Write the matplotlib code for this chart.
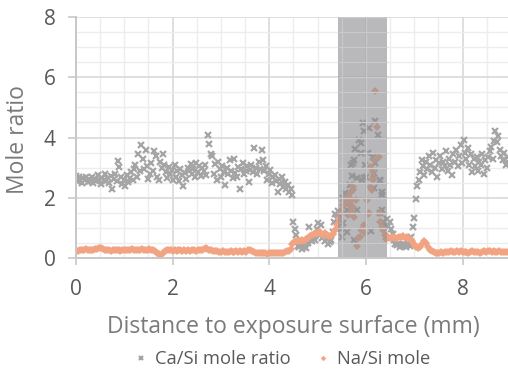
import numpy as np
import matplotlib
matplotlib.use("Agg")
import matplotlib.pyplot as plt
from matplotlib.ticker import MultipleLocator

plt.rcParams['font.family'] = ['Open Sans', 'DejaVu Sans']

# ---------------- data ----------------
# Ca/Si mole ratio, segment A: distance 0.00 .. 4.47 mm (step 0.03)
ca_a_start, ca_a_step = 0.00, 0.03
ca_a = [2.72, 2.55, 2.68, 2.60, 2.48, 2.66, 2.58, 2.70, 2.52, 2.63, 2.57,
        2.69, 2.50, 2.62, 2.55, 2.74, 2.60, 2.47, 2.65, 2.58, 2.80,
        2.56, 2.64, 2.49, 2.72, 2.30, 2.61, 2.78, 2.55, 3.22, 3.02,
        2.68, 2.45, 2.60, 2.38, 2.75, 2.52, 2.66, 2.85, 2.58, 2.95,
        3.10, 2.70, 3.45, 2.88, 3.75, 3.30, 2.95, 3.60, 3.05, 2.62,
        2.80, 3.15, 2.90, 3.55, 3.38, 2.70, 2.60, 3.20, 2.98, 3.45,
        3.10, 2.85, 2.65, 3.02, 2.78, 2.92, 2.60, 3.08, 2.70, 2.88,
        2.55, 2.95, 2.74, 2.38, 2.82, 2.62, 3.00, 2.90, 3.12, 2.78,
        2.96, 2.70, 3.15, 2.85, 3.05, 2.72, 2.98, 2.88, 3.10, 2.74,
        4.08, 3.80, 3.45, 3.38, 2.80, 3.12, 2.60, 3.20, 2.95, 2.68,
        3.05, 2.85, 2.42, 3.00, 2.78, 3.25, 2.90, 2.65, 3.30, 2.82,
        2.70, 3.02, 2.30, 2.95, 3.14, 2.80, 2.88, 3.05, 2.53, 2.92,
        3.10, 2.85, 3.64, 3.00, 2.78, 3.20, 2.95, 3.60, 3.26, 2.90,
        3.05, 2.60, 2.80, 2.92, 2.48, 2.70, 2.75, 2.55, 2.20, 2.62,
        2.45, 2.68, 2.35, 2.52, 2.28, 2.42, 2.18, 2.30, 2.10]
# segment B: 4.50 .. 5.40 mm (step 0.03)
ca_b_start, ca_b_step = 4.50, 0.03
ca_b = [1.20, 0.95, 0.75, 0.40, 0.35, 0.42, 0.30, 0.38, 0.45, 0.33, 0.50,
        1.02, 0.62, 0.55, 0.70, 0.60, 0.95, 1.15, 0.75, 1.08, 0.68,
        0.72, 0.55, 0.62, 0.48, 0.52, 0.60, 0.85, 1.20, 1.45, 1.30]
# segment C: 6.43 .. 8.95 mm (step 0.03)
ca_c_start, ca_c_step = 6.43, 0.03
ca_c = [1.30, 1.05, 1.20, 0.95, 0.80, 0.60, 0.48, 0.42, 0.45, 0.38,
        0.44, 0.40, 0.47, 0.36, 0.42, 0.48, 0.40, 0.70, 1.04, 1.33,
        1.96, 2.40, 2.58, 2.85, 3.25, 3.05, 2.75, 3.20, 2.95, 3.40,
        3.10, 2.85, 3.50, 3.00, 3.25, 2.70, 3.15, 3.40, 2.95, 3.20,
        3.05, 3.55, 2.90, 3.30, 3.10, 2.75, 3.45, 3.20, 3.60, 3.05,
        3.40, 3.75, 3.15, 3.92, 3.50, 3.30, 3.65, 3.10, 3.45, 2.85,
        3.30, 3.05, 3.35, 2.90, 3.20, 3.10, 3.45, 2.80, 3.25, 3.00,
        3.35, 3.55, 3.70, 3.30, 3.90, 4.20, 3.85, 4.05, 3.60, 3.40,
        3.25, 3.47, 3.10, 3.35, 3.20]
# scattered Ca/Si points inside the shaded zone
ca_band_x = [5.43, 5.45, 5.48, 5.50, 5.53, 5.53, 5.57, 5.61, 5.66, 5.69, 5.71,
             5.76, 5.78, 5.81, 5.82, 5.85, 5.89, 5.90, 5.92, 5.93, 5.95, 5.98,
             6.00, 6.04, 6.07, 6.14, 6.17, 6.18, 6.19, 6.24, 6.29, 6.29, 6.33,
             6.36, 6.40, 5.60, 5.75, 6.10, 5.74, 5.95, 6.16, 6.29, 5.57, 6.33,
             6.33, 5.47]
ca_band_y = [1.55, 1.25, 0.95, 0.70, 1.98, 1.15, 2.12, 1.59, 2.42, 3.09, 2.72,
             3.26, 3.62, 2.64, 1.59, 3.92, 3.50, 3.81, 2.59, 4.47, 4.20, 3.09,
             2.70, 3.48, 4.31, 3.34, 2.31, 4.56, 3.14, 4.09, 2.59, 1.48, 2.09,
             1.20, 1.05, 0.85, 0.60, 0.90, 3.15, 2.65, 2.81, 2.54, 2.15, 2.20,
             1.60, 1.37]

# Na/Si mole ratio, segment A: 0.00 .. 5.40 mm (step 0.04)
na_a_start, na_a_step = 0.00, 0.04
na_a = [0.26, 0.24, 0.28, 0.25, 0.27, 0.29, 0.26, 0.25, 0.28, 0.27,
        0.30, 0.29, 0.32, 0.33, 0.30, 0.27, 0.25, 0.26, 0.24, 0.26,
        0.27, 0.25, 0.26, 0.24, 0.27, 0.26, 0.28, 0.25, 0.27, 0.29,
        0.28, 0.27, 0.26, 0.28, 0.29, 0.27, 0.28, 0.26, 0.29, 0.27,
        0.28, 0.24, 0.18, 0.12, 0.10, 0.16, 0.22, 0.26, 0.25, 0.27,
        0.24, 0.26, 0.23, 0.25, 0.27, 0.24, 0.25, 0.23, 0.26, 0.24,
        0.25, 0.27, 0.24, 0.26, 0.25, 0.28, 0.30, 0.33, 0.30, 0.27,
        0.26, 0.24, 0.22, 0.23, 0.21, 0.20, 0.22, 0.21, 0.19, 0.21,
        0.22, 0.20, 0.21, 0.23, 0.19, 0.22, 0.20, 0.24, 0.21, 0.26,
        0.28, 0.24, 0.20, 0.17, 0.15, 0.16, 0.17, 0.15, 0.16, 0.14,
        0.16, 0.15, 0.17, 0.16, 0.15, 0.17, 0.16, 0.18, 0.20, 0.22,
        0.24, 0.30, 0.45, 0.52, 0.55, 0.58, 0.56, 0.60, 0.58, 0.62,
        0.66, 0.72, 0.76, 0.80, 0.84, 0.82, 0.86, 0.80, 0.78, 0.82,
        0.76, 0.74, 0.72, 0.80, 0.92, 1.08]
# segment C: 6.44 .. 8.92 mm (step 0.04)
na_c_start, na_c_step = 6.44, 0.04
na_c = [0.72, 0.68, 0.66, 0.70, 0.67, 0.65, 0.69, 0.70, 0.72, 0.68,
        0.70, 0.66, 0.62, 0.55, 0.45, 0.38, 0.33, 0.35, 0.48, 0.55,
        0.50, 0.38, 0.28, 0.22, 0.20, 0.18, 0.15, 0.17, 0.19, 0.18,
        0.20, 0.21, 0.19, 0.22, 0.20, 0.21, 0.23, 0.20, 0.22, 0.19,
        0.21, 0.20, 0.18, 0.20, 0.22, 0.19, 0.21, 0.20, 0.18, 0.21,
        0.23, 0.21, 0.24, 0.22, 0.20, 0.23, 0.21, 0.19, 0.22, 0.20,
        0.21, 0.19, 0.20]
# scattered Na/Si points inside the shaded zone
na_band_x = [5.45, 5.48, 5.52, 5.55, 5.59, 5.62, 5.64, 5.65, 5.68, 5.69, 5.70,
             5.72, 5.73, 5.74, 5.74, 5.75, 5.63, 5.80, 5.81, 5.84, 5.88, 5.90,
             5.95, 5.98, 6.03, 6.05, 6.06, 6.09, 6.09, 6.12, 6.14, 6.15, 6.15,
             6.16, 6.18, 6.22, 6.28, 6.29, 6.29, 6.33, 6.36, 6.40, 6.42]
na_band_y = [1.30, 1.55, 1.75, 1.90, 1.94, 2.05, 2.03, 1.75, 1.76, 1.90, 2.20,
             1.55, 2.26, 1.70, 2.37, 1.37, 1.43, 1.93, 0.40, 0.66, 0.71, 0.93,
             1.10, 0.82, 1.93, 1.46, 1.48, 2.37, 3.03, 2.26, 2.59, 2.87, 2.70,
             3.26, 5.53, 4.34, 3.34, 1.21, 1.48, 1.04, 0.93, 0.75, 0.62]

band_range = (5.42, 6.44)

x_label = "Distance to exposure surface (mm)"
y_label = "Mole ratio"
ca_name = "Ca/Si mole ratio"
na_name = "Na/Si mole"


def positions(start, step, vals):
    return start + step * np.arange(len(vals))


ca_x = np.concatenate([positions(ca_a_start, ca_a_step, ca_a),
                       positions(ca_b_start, ca_b_step, ca_b),
                       ca_band_x,
                       positions(ca_c_start, ca_c_step, ca_c)])
ca_y = np.concatenate([ca_a, ca_b, ca_band_y, ca_c])
na_x = np.concatenate([positions(na_a_start, na_a_step, na_a),
                       na_band_x,
                       positions(na_c_start, na_c_step, na_c)])
na_y = np.concatenate([na_a, na_band_y, na_c])

# ---------------- figure ----------------
fig = plt.figure(figsize=(5.08, 3.72), dpi=100)
ax = fig.add_axes([76 / 508, 1 - 258 / 372, 1 - 76 / 508, (258 - 17) / 372])

gray = '#a5a5a5'
orange = '#f2a382'

ax.plot(ca_x, ca_y, linestyle='none', marker='x', ms=4.4, mew=1.6,
        color=gray, zorder=2, label=ca_name)
ax.plot(na_x, na_y, linestyle='none', marker='D', ms=3.9, mew=0,
        color=orange, zorder=2.5, label=na_name)

ax.set_xlim(0, 8.94)
ax.set_ylim(0, 8)
ax.xaxis.set_major_locator(MultipleLocator(2))
ax.xaxis.set_minor_locator(MultipleLocator(0.5))
ax.yaxis.set_major_locator(MultipleLocator(2))
ax.yaxis.set_minor_locator(MultipleLocator(0.5))

ax.set_axisbelow(True)
ax.grid(which='major', color='#d9d9d9', lw=1.2)
ax.grid(which='minor', color='#ededed', lw=1.0)

# shaded zone on top of markers, gridlines visible through it
ax.axvspan(*band_range, color='#8e8e92', alpha=0.62, lw=0, zorder=3)
gx = [v for v in np.arange(0, 9.01, 0.5) if band_range[0] < v < band_range[1]]
gy = np.arange(0.5, 8.01, 0.5)
ax.vlines(gx, 0, 8, color='#c9c9cc', lw=1.0, zorder=4)
ax.hlines(gy, band_range[0], band_range[1], color='#c9c9cc', lw=1.0, zorder=4)

for s in ['top', 'right']:
    ax.spines[s].set_visible(False)
for s in ['left', 'bottom']:
    ax.spines[s].set_color('#c8c8c8')
    ax.spines[s].set_linewidth(1.4)
    ax.spines[s].set_zorder(5)

ax.tick_params(which='major', axis='both', direction='out', color='#c8c8c8',
               width=1.2, labelsize=15, labelcolor='#595959')
ax.tick_params(which='major', axis='y', length=5.5, pad=9)
ax.tick_params(which='major', axis='x', length=5.0, pad=10)
ax.tick_params(which='minor', length=0)

fig.text(18 / 508, 1 - 140 / 372, y_label, rotation=90, ha='center',
         va='center', fontsize=16.5, color='#7a7a7a')
fig.text(293 / 508, 1 - 327 / 372, x_label, ha='center', va='center',
         fontsize=16.5, color='#7a7a7a')

leg = fig.legend(loc='center', bbox_to_anchor=(283 / 508, 1 - 359 / 372),
                 ncol=2, frameon=False, fontsize=13.2, handlelength=0.6,
                 handletextpad=0.45, columnspacing=1.5, markerscale=0.7)
for t in leg.get_texts():
    t.set_color('#595959')

fig.savefig('out.png', dpi=100)
